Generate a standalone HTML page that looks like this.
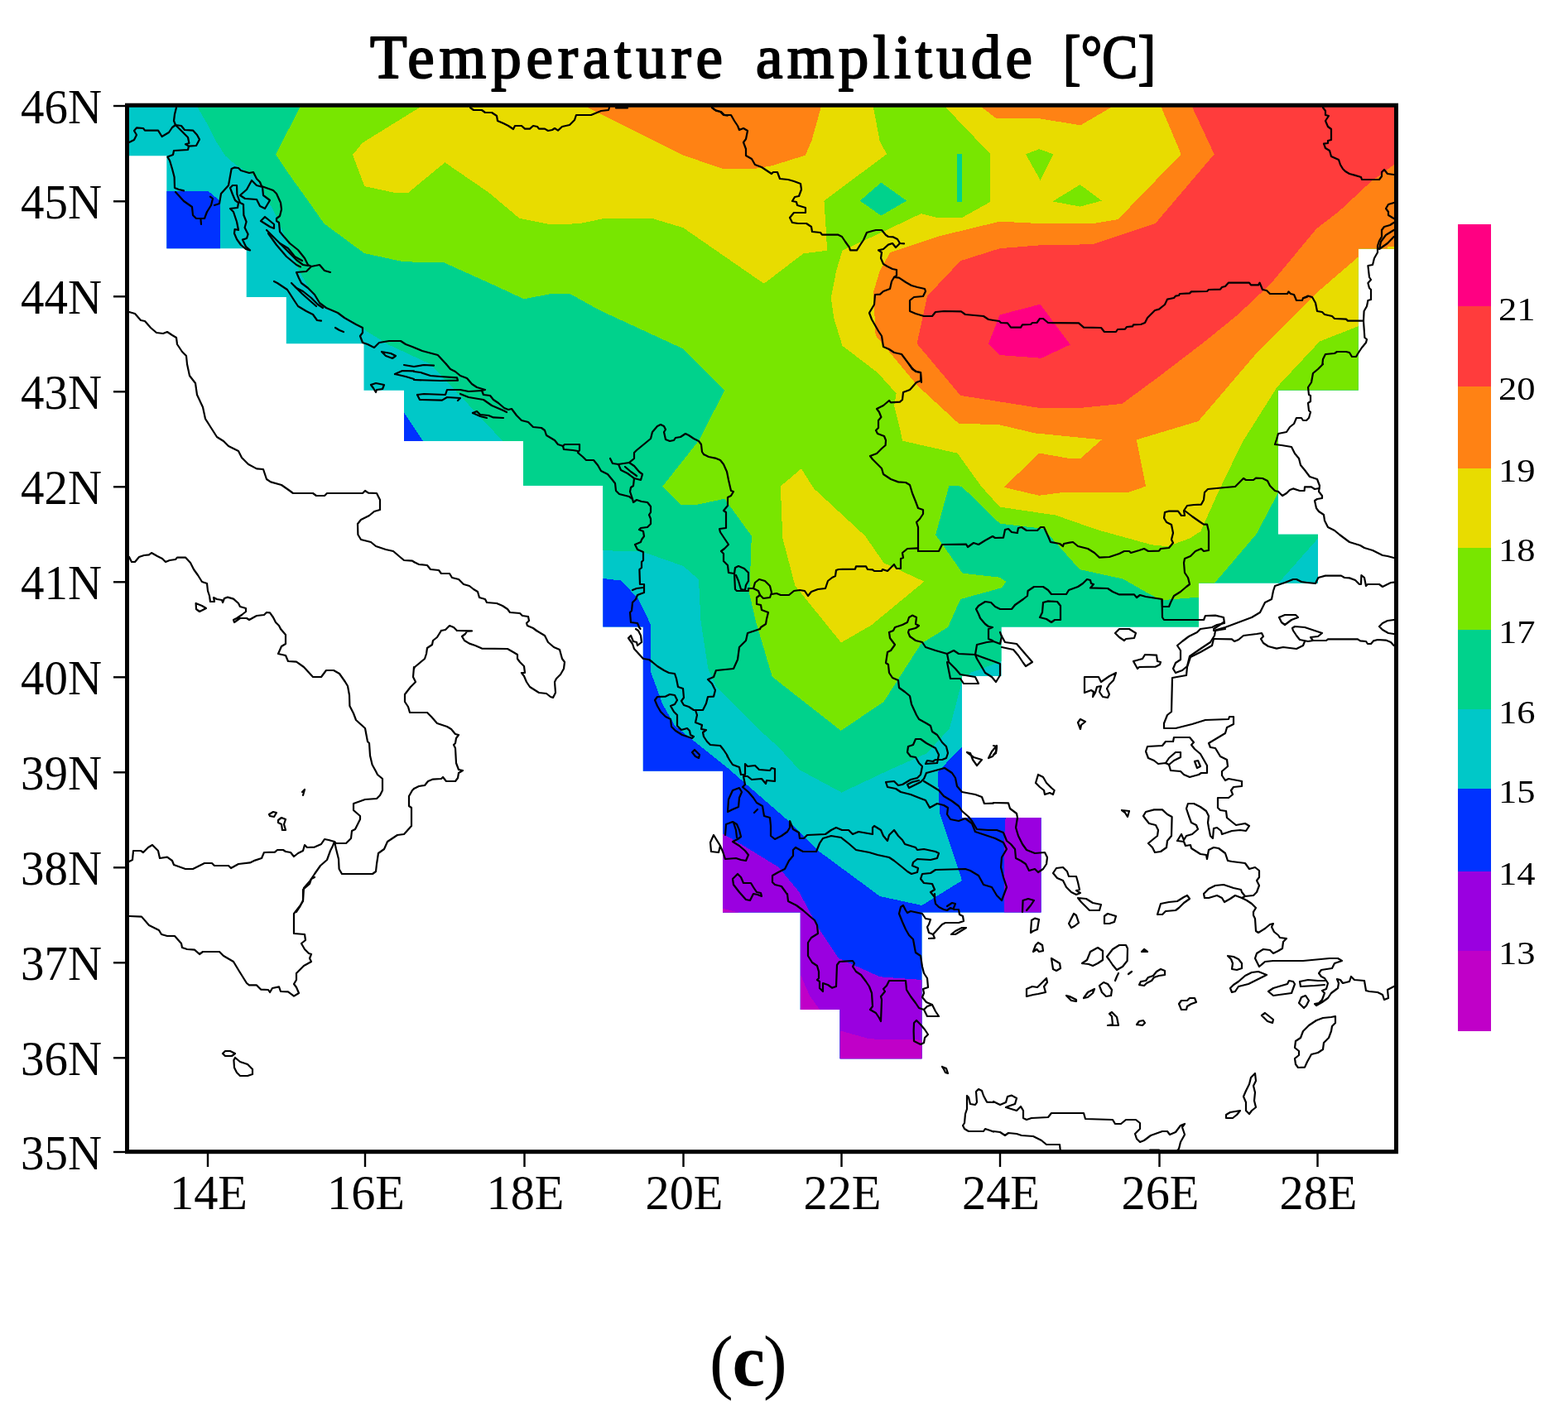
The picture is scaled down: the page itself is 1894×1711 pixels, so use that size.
<!DOCTYPE html>
<html lang="en"><head><meta charset="utf-8"><title>Temperature amplitude</title>
<style>
html,body{margin:0;padding:0;background:#fff}
body{width:1894px;height:1711px;overflow:hidden;position:relative}
svg{position:absolute;left:0;top:0;display:block}
text{font-family:"Liberation Serif","DejaVu Serif",serif;fill:#000}
.ax{font-size:60px}
.cb{font-size:39px}
.ttl{font-size:73px;stroke:#000;stroke-width:2px;stroke-linejoin:round}
.cap{font-size:90px}
.coast{fill:none;stroke:#000;stroke-width:2.2;stroke-linejoin:round;stroke-linecap:round}
</style></head><body>
<svg width="1894" height="1711" viewBox="0 0 1894 1711">
<rect width="1894" height="1711" fill="#fff"/>
<defs><clipPath id="mask"><polygon points="153.5,127 1686.5,127 1686.5,300.5 1640.8,300.5 1640.8,471.5 1543.8,471.5 1543.8,645.8 1592,645.8 1592,704.5 1448,704.5 1448,757.5 1209.5,757.5 1209.5,817 1162,817 1162,988 1257.5,988 1257.5,1102.5 1113.5,1102.5 1113.5,1279.2 1014.5,1279.2 1014.5,1220 966.8,1220 966.8,1102.5 873,1102.5 873,931.8 776.8,931.8 776.8,757.5 728.3,757.5 728.3,586.8 632,586.8 632,533 488,533 488,471.8 439.5,471.8 439.5,415.3 345.8,415.3 345.8,359 297.7,359 297.7,300.3 201.3,300.3 201.3,188.2 153.5,188.2"/></clipPath><clipPath id="frame"><rect x="153.5" y="127" width="1533" height="1265"/></clipPath></defs>
<g clip-path="url(#mask)" shape-rendering="crispEdges">
<rect x="150" y="120" width="1540" height="1280" fill="#00c8c8"/>
<polygon fill="#00d28c" points="238.7,100 238.7,129.8 251.4,151.7 260.9,170.7 272,188.1 284.6,199.2 310,215 333.3,260.9 351,301.5 361.2,326.9 373.9,349.7 389.1,368.7 406.9,377.6 425.9,387.7 444.9,401.7 470.3,417 520,440 607.7,533.4 607.7,665.2 728.4,665.2 775.2,666.4 825.2,683.9 844,700.2 846.5,750.3 855.3,807.8 865.3,830.3 924,888 940.2,902.5 965.3,930 1016.6,957.6 1075,930 1120,910 1147,880 1155,850 1162,823 1172.7,812.8 1209.7,799 1300,799 1700,799 1700,100"/>
<polygon fill="#78e600" points="362.3,100 362.3,129.8 333,186.5 351.2,213.5 375,246.7 391.5,270.2 440,306 487.8,316.4 535.4,316.9 600,346 632.7,361.3 667.7,354.6 687.7,354.6 725.1,375.3 825.3,421.5 875.3,471.6 844,532.5 800.3,587.7 822.8,610.2 840.3,610.2 875.3,602.6 907.8,647.6 905.3,717.7 912.8,750.3 932.8,817.8 1015.8,882.9 1067.6,847.8 1112.6,777.8 1145.1,757.8 1160.2,724 1210.2,710.2 1215.2,702.7 1207.7,697.7 1162.7,692.7 1140.1,660.2 1130.1,646.4 1146.4,587.1 1161.4,587.6 1207.7,632.6 1260.3,638.9 1304,688 1356.5,699.6 1386,716.5 1402.6,725.3 1448.1,721.6 1460,721.6 1467.7,704 1517.7,645.2 1544,595.2 1700,595 1700,100"/>
<polygon fill="#e8dc00" points="506.6,100 506.6,130 437.8,172.6 426,187.1 440.3,225.1 477.8,233.1 492.8,233.1 537.4,196.3 590.4,232.6 627.5,263.9 665.1,271.4 700.1,270.2 730.1,263.9 787.7,263.9 825.2,275.2 922.8,342.7 970.4,306.4 999.1,302.7 997.9,280.2 995.4,242.6 1071,186.3 1062.6,170 1055,130 1055,100"/>
<polygon fill="#e8dc00" points="1142.6,100 1142.6,130 1196.4,186.3 1196.4,243.9 1162.7,262.6 1130.1,262.6 1112.6,258.1 1066.3,280.2 1017.5,302.7 1010,327.7 1003.8,360.2 1007.5,385.3 1017.5,417.8 1060.1,450.3 1082.6,475.4 1080.1,490.4 1087.6,520.4 1090.1,532.7 1156.5,547.7 1185.2,587.6 1207.7,612.6 1275.3,622.6 1325.3,640.1 1391.5,658.4 1410.4,660.2 1437.6,650.3 1450.3,642 1470.2,597.7 1500.2,535.1 1542.7,467.6 1594,412.6 1641,394 1700,394 1700,100"/>
<polygon fill="#e8dc00" points="942.8,587.6 967.9,566.3 982.9,590.1 1045,647.6 1067.6,680.2 1116.4,702.7 1052.6,755.3 1016,776.5 960.4,707.7 945.3,650.2"/>
<polygon fill="#ff8214" points="710.1,100 710.1,130 740.1,145 775.2,162.5 825.2,187.6 872.8,203.8 912.8,203.8 932.8,200.1 972.9,187.6 980.4,170 991.6,130 991.6,100"/>
<polygon fill="#ff8214" points="1186.4,100 1186.4,130 1202.7,142.5 1250.3,142.5 1305.3,151.3 1341.6,130 1341.6,100"/>
<polygon fill="#ff8214" points="1402.9,100 1402.9,130 1426.7,186.3 1350.4,265.1 1320.3,270.2 1257.8,270.2 1207.7,267.6 1135.1,285.2 1075.1,305.2 1062.6,327.7 1055.1,352.7 1057.6,405.3 1107.6,465.3 1157.7,511.5 1207.7,513.4 1250.3,523.4 1330.8,531.3 1305.3,553.8 1290.3,553.8 1255.3,547.5 1212.7,588.8 1255.3,598.8 1282.8,595.1 1363,595 1384,587.6 1372.8,531.4 1447.5,509 1520.1,424 1590.2,354 1641,310.2 1700,310 1700,100"/>
<polygon fill="#e8dc00" points="1676,297.5 1690,297.5 1690,302 1676,302"/>
<polygon fill="#ff3c3c" points="1440.4,100 1440.4,130 1466.7,186.3 1395.4,270.2 1320.3,295.2 1255.3,296.4 1207.7,300.2 1160.2,315.2 1120.1,357.7 1107.6,415.3 1160.2,477.9 1255.3,492.9 1305.3,492.9 1355.4,487.9 1400,455 1455.1,412.8 1495.1,380.3 1535.1,342.7 1590.2,276.4 1617.7,255.1 1655.3,220.1 1684,198.8 1700,198 1700,100"/>
<polygon fill="#ff0082" points="1256.5,367.7 1207.7,380.3 1194,415.3 1207.7,429 1257.8,432.8 1292.8,416.5"/>
<polygon fill="#00d28c" points="1038.8,242.6 1064.3,220.6 1095.1,242.6 1064.3,260.6"/>
<polygon fill="#00d28c" points="1156.4,186.3 1161.9,186.3 1161.9,244.4 1156.4,244.4"/>
<polygon fill="#78e600" points="1239,186.3 1255.3,180.1 1272.3,186.3 1256.5,217.6"/>
<polygon fill="#78e600" points="1271.5,243.4 1304.6,223.1 1330.8,242.6 1304.6,249.6"/>
<polygon fill="#00c8c8" points="1544,704.8 1592.3,650.3 1592.3,704.8"/>
<polygon fill="#0032ff" points="201.2,231.4 252.2,231.4 265.6,242.8 265.6,300.6 201.2,300.6"/>
<polygon fill="#0032ff" points="488.1,498.9 511.4,533.5 488.1,533.5"/>
<polygon fill="#0032ff" points="700,699 728.4,699 750.2,701.5 770.2,722.7 786.4,755.3 786.4,812.8 800.2,850.4 815.2,877 877.8,927 950.3,990.1 987.8,1027.6 1062.9,1083 1113.5,1094 1162,1064 1135.1,982.7 1132.6,932.7 1161.9,902.6 1300,902 1300,1300 700,1300"/>
<polygon fill="#9a00e0" points="800,1007 873.2,1007.6 895.2,1020.1 940.2,1047.7 965.3,1077.7 987.8,1120.2 1012.8,1157.8 1062.9,1180.3 1113.7,1184 1200,1184 1200,1300 800,1300"/>
<polygon fill="#9a00e0" points="1215.2,980 1212.7,1017.7 1212.7,1110 1270,1110 1270,980"/>
<polygon fill="#c000c8" points="873,1097.7 893,1102.7 873,1102.7"/>
<polygon fill="#c000c8" points="967,1177.8 977.8,1202.8 990.3,1220.3 967,1220.3"/>
<polygon fill="#c000c8" points="1014.8,1245.4 1050.4,1255.4 1113.7,1256.6 1113.7,1290 1014.8,1290"/>
</g>
<g class="coast" clip-path="url(#frame)">
<polyline points="156,172 162,169 165,163 162,158 165,154.4 173,155 175,157.6 191,157.6 195.6,165 204,160 208,154 212,151"/>
<polyline points="213,130 211,138 210,146 212,151 219,152 223,157 233,157.6 238,163 241,168.6 237,176 228,176.6 227,181 210,182 209,187 202.4,189.6 205,194 208,204 210.6,214 211,227 216,229 222,230.4"/>
<polyline points="212,151 220,159 227,166 228.4,173 224,174.4 228,176.6"/>
<polyline points="212,232 222,243 232,250 233,260 237,264 247,264 250,256 255,248 257,240 254,237.6"/>
<polyline points="243,271 242.4,264.4"/>
<polyline points="259,248 265,246 267,234 276,224 279.6,204 283,202.4 288,203 291,206 301,209 306,208 308,212 310,216 314,220 316,225 330,230 334,234 339,245 340,253 338,261 334,264 334,267 337,269 338,280 343,286 350,294 360,302 368,312 372,320 376,322 386,320 392,327 399,329"/>
<polyline points="376,322 370,328 358,329 361,336 364,342 372,348 380,356 386,366 394,372 408,378 416,384 430,392 438,396 438,402 435,406 438,414 444,416 452,420 458,414 470,412 484,412 490,416 498,419 510,424 528.8,429 539,440"/>
<polyline points="278,227 281,224 286,224 286.4,235 290,245 294,247 294.4,260 297.6,268 295.6,275 299.6,283 298,288 293,289.6 297,298 302,302.4 297,301 291,296 286,289 283,282 283.6,277 288,278 286,268 282,256 278,252 287,251 288,245 284,242 281,235 278,227"/>
<polyline points="290,236 298,229 304,218 310,224 317,226 318,236 326,242 320,252 314,249 310,241 296,240 290,236"/>
<polyline points="315,267 320,262 331,271 331,276 326,274 315,267"/>
<polyline points="322,278 330,286 340,296 350,306 358,314 366,320 372,321"/>
<polyline points="324,282 334,296 346,310 358,320 363,322.4"/>
<polyline points="338,294 348,300 356,310 365,315"/>
<polyline points="331,340 335,342 347,350 356,364 360,370 370,376 378,380 383,387 388,387.6"/>
<polyline points="352,342 358,348 366,352 376,360 384,368 390,372"/>
<polyline points="356,346 365,355 374,363 382,370"/>
<polyline points="405,396 410,399 415,401"/>
<polyline points="461,425 466,430 474,433 478,430 472,427 461,425"/>
<polyline points="156,377 163,379 170,387 175,388 182,396 189,402 197,403 202,401 208,405 213,408 214,416 220,425 225,430 226,440"/>
<polyline points="568,130 572,133 582,133 586,136 594,136 600,140 601,146 608,149 614,152 620,156 622,152 630,152 634,155.6 640,155.6 644,152 649,153 651,155.6 658,155.6 662,158 667,157 670,155 674,157.6 679,153 688,151 694,145 696,139 714,139 726,134 735,133 736,130"/>
<polyline points="860,130 864,133 870,135 874,139 878.8,139.6"/>
<polyline points="744,130.4 758,130.4"/>
<polyline points="860,130 865,134 871,135 875,139 883,139 887,146 891,152 893,157 898,155 903,158 901,168 898,172 901,180 901,188 908,192 912,199 920,202 926,206 932,210 934,208 939,208 942,216 952,217 959,219 967,222 968,229 965,237 960,238 957,243 962,244 963,248 973,251 973,257 959,257 954,263 957,269 964,270 974,270 980,274 981,280 991,281 993,283.6 1012,283.6 1017,286 1021,292 1026,299 1027,302.4 1035,302.4 1039,296 1043,290 1047,281 1054,279 1058,278 1065,278 1070,284 1073,286 1079,286.4 1084,289 1087,294 1092,294.4"/>
<polyline points="1087,294 1082,299 1078,294 1073,295.6 1067,301 1061,302.4 1065,305 1064,312 1067,319 1072,322 1078,325 1083,326 1083,333 1080,335"/>
<polyline points="1080,335 1086,335.6 1094,341 1101,345 1108,347 1117,349 1118,352 1115,358 1104,359 1099,363 1099,376 1106,379 1116,382 1126,382 1130,377 1140,376 1161,376.4 1166,380 1188,382 1194,386 1200,387"/>
<polyline points="1080,335 1077,340 1075,349 1067,352 1063,355.6 1057,356 1056,368 1053,373 1050,378 1053,386 1057,393 1061,400 1065,406 1067,419 1074,422 1080,426 1089,428 1095,436 1101,444 1106,449 1112,450 1113,461.8"/>
<polyline points="1200,387 1207,388 1209,390 1217,390.4 1221,395.6 1233,395.6 1235,392.4 1245,392 1247,390 1252.4,390 1256,385 1260,385 1266,390 1303,390.4 1309,395.6 1330,396 1334,401 1348,401 1350,398 1359,397.6 1361,395 1368,394.4 1369,392.4 1378,392 1383,390 1386,384 1395,375 1400,373.6 1407,368 1410,361.6 1418,360 1420,357.6 1424,357 1425,355 1437,354.4 1439,352.4 1458,352 1460,350 1474,349.6 1476,347 1480,346 1484,341.6 1509,341.6 1511,344.4 1520,344.4 1521.6,341.6 1525,350 1530,351 1534,355 1555,355 1556.4,352.4 1559,355 1563,356 1566,363 1573,363 1574,360 1578.8,359"/>
<polyline points="1598,130 1601,134 1601,139 1605,140 1601,146 1604,153 1608,156 1608,169 1604,170 1604,173 1599,173.6 1601,179 1606,182 1608,189 1617,193 1619,199 1622,204 1625,207 1630,210 1636,211.6 1644,214 1645,217 1666,217 1669,213 1669,208 1672,205 1676,210 1683.6,211"/>
<polyline points="1683.6,245 1677,247 1674,252 1677,256 1677,260 1683.6,264"/>
<polyline points="1683.6,269 1679,272 1672,274 1669,278 1669,286 1666,291 1664,297 1664,305"/>
<polyline points="1683.6,278 1674,284 1668,292 1666,301 1676,294 1683.6,286"/>
<polyline points="1664,305 1660,312 1658,320 1652.4,321 1654,335 1656,338 1652.4,342 1654,348 1656,350 1656,362 1652.4,363 1651,370 1647.6,376 1647,388 1648.4,408 1651,410 1650,414 1645,420 1641,426 1638,431 1633,431 1630,426 1626,425 1615,425 1612,427 1601,428 1598,434 1597.4,440"/>
<polyline points="1575,360 1580,357.6 1585,359 1589,366 1591,376 1597,377 1600,380 1609,382 1612,385 1626,385.6 1628,387.6 1647,387.6"/>
<polyline points="226,440 229,454 236,463 238,477 245,492 248,506 255,517 262,528 270,533 276,539 288,545 292,553 300,561 310,566.4 318,567 322,579 327,582.4 340,586 350,593 354,596 378,596 382,599 392,599 395,596 438,596 441,593 445,595.6 455,596 459,604 459,616 452,618 446,623 436,628 432,633 432.4,646 436,652 448,655 454,660 466,664 475,666 482,672 488,677 498,677.6 500,679"/>
<polyline points="156,673 159,679 163,679 168,673 174,671 180,670.4 183,668 190,672 196,675 200,679 205,677 212,676 214,673.6 224,673.6 230,680 234,688 239,695 244,703 250,705 251,714 253,720 254,727 259,727 258,722 262,724 268,725 269,728 271,723 275,721.6 282,723.6 288,729 290,733 297,735 297,739 292,743 286,747 282,749 283,752 290,747 298,747 301,749 310,744 319,743 322,740 326,740.4 330,746 333,752 337,756 339,760"/>
<polyline points="236.6,729 237,736 241,739 249,735 244,732 236.6,729"/>
<polyline points="448,465 454,463 464,465 462,470 455,471 454,474 451,469 448,465"/>
<polyline points="477,452 486,448 500,448.4"/>
<polyline points="477,452 490,455 500,458"/>
<polyline points="488,441 500,443"/>
<polyline points="539,440 544,446 550,449 556,454 564,457 570,464 576,468 586,471 582,472 584,477 592,478 596,483 602,487 609,493 614,495 618,494 624,502 630,508 638,510 644,516 654,517 658,520 660,526 670,532 674,537 680,539 682,537 700,537 700,544 698,547 704,552 708,556 717,556 722,562 726,569 734,573 739,579 743,584 744,593 748,597 760,600 764,603 765,607 769,604 775,606 782,607 786,612 786,619 784,622 786,627 786,633 782,637 774,638 772,640 777,642 778,648 775,652 774,655 767,658 770,664 777,667 777,677 775,679 775,686 772.4,688 773,706 778,706 778,716 770,719 768,724 764,728 763,738 761,740 762,752 770,753 772,758 773.6,760"/>
<polyline points="680,539 681,543 692,544 698,545"/>
<polyline points="764,713 769,711 777,710"/>
<polyline points="764,603 761,594 762,589 765,587 766,578"/>
<polyline points="737,554 740,560 747,561 760,559 766,554 766,547 769,544 780,535 786,530 788,522 794,515 798,513 802,515 804,519 802,522 804,531 809,533 814,532 816,529 822,528 828,524 832,526 838,530 844,533 847,537 848,546 850,549"/>
<polyline points="747,561 750,568 758,572 766,578 774,580 776,573 772,570 766,563 760,559"/>
<polyline points="755,564 762,570 769,575"/>
<polyline points="500,449 508,450 520,454 532,455 552,456.4 553,459.6 532,460 500,459"/>
<polyline points="500,443 512,441 524,441.6"/>
<polyline points="504,477 512,476 538,477 540,471 556,471 566,473 582,472"/>
<polyline points="504,477 507,483 534,483.6 540,480 556,481 553,484"/>
<polyline points="556,476 566,480 584,483 594,490 608,496 612,498"/>
<polyline points="571,499 576,497 580,501 590,502 596,504.4 608,505"/>
<polyline points="571,499 580,503 588,505"/>
<polyline points="500,679 506,682 516,683 520,688 530,689 533,693 543,693 546,698 554,700 560,706 567,708 572,712 577,715 579,722 586,724 588,728 600,729 607,732 613,736 616,740 628,741 631,744 638,745 639,750 636,753 637,756 644,759 648,762"/>
<polyline points="533,762 538,761 543,756 548,758 552,762"/>
<polyline points="850,549 856,552 864,553.6 870,556 874,561 878,570 880,580 883,593 886,594 883,599 879,601 879,611 874,617 877,619 877,638 869,639 870,643 876,652 880,658 875,663 871,666 874,669 874,678 879,683 880,692 887,693 888,712 890,714 904,714 904,711 910,711"/>
<polyline points="887,693 888,686 892,684 899,687 904,692 904,702 901,707 900,713 895,712 892,702 889,695"/>
<polyline points="910,711 912,704 917,700 924,702 930,708 932,716 930,722 922,723 918,719 916,714 910,711"/>
<polyline points="918,719 914,722 914,730 919,731 920,737 928,740 926,748 925,754 919,758 918,760"/>
<polyline points="932,718 938,717 943,719 953,719 959,714 966,713 972,714 976,720 980,715 988,712 997,711 1000,702 1005,698 1009,696 1010,689 1013,688 1033,687.6 1034,684.4 1046,684.4 1048,688 1054,688.4 1056,690 1065,690 1066,688 1072,690 1074,688 1080,682 1083,687 1088,687 1088,675 1091,674 1090,668 1096,663 1109,662.4"/>
<polyline points="1098,440 1102,446 1107,449 1112,450 1112.4,460 1107,462 1099,471 1091,474 1090,483 1087,485.6 1076,486.4 1074,484 1067,490 1059,494 1062,498 1064.4,504 1061,508 1061,517 1058,520 1060,524 1068,527 1070,532 1069.6,538 1065,542 1059,548 1051,551 1054,555 1059,560 1065,566 1067,573 1076,579 1085,582.4 1094,583 1099,586 1102,596 1106,606 1109,614 1115,616 1115,621 1111,627 1107,631 1109,637 1109,666"/>
<polyline points="1109,666 1134,666 1138,658 1167,657.6 1169,661 1176,656 1182,658 1190,653 1199,648 1202,650 1212,649.6 1214,640 1218,639 1222,643 1228.8,644"/>
<polyline points="1074,764 1079,762 1081,758 1090,755 1096,752 1098,746 1102,743.6 1107,746 1106,754 1110,756 1106,759 1098,761 1097,764 1099,769"/>
<polyline points="1226,731 1222,736 1208,736 1202,733 1197,728 1190,727 1182,732 1179,736 1182,742 1184,747 1190,754 1194,757 1199,758 1194,760 1194,772 1199,774"/>
<polyline points="1228.8,644 1230,638 1234,637 1240,641 1253,641 1257,637 1261,637 1266,648 1269,655 1280,657 1284,660 1285,657 1292,655.6 1296,655 1302,660 1314,663 1322,668 1328,673.6 1340,673 1352,669 1358,666 1364,666 1366,668 1376,665 1382,663 1387,666 1400,665.6 1402,663 1412,662 1417,656 1415,652 1417,644 1415,634 1409,631 1406,626 1407,619 1412,617.6 1423,617.6 1427,623 1431,623 1430,617 1434,611 1442,610 1451,609.6 1454,604 1455,595 1459,591 1480,589 1492,588 1498,582 1502,578 1505,580 1514,580 1517,577.6 1525,578 1531,581 1534,587 1540,593 1544,594"/>
<polyline points="1431,617 1440,624 1450,631 1454,633.6 1458,633.6 1460,642 1460,665 1454,666 1451,663 1444,666 1438,672 1431,675 1430,680 1431,692 1435,698 1437,706 1433,709 1426,715 1418,720 1414,728 1412,733 1404,733 1403.6,725"/>
<polyline points="1226,731 1236,724 1241,720 1241.6,714 1249,709 1260,709 1266,713 1270,718 1288,718 1291,713 1302,709 1308,705 1313,700 1317,701 1318,705 1321,706 1317,710.4 1338,711 1344,715 1352,718.4 1370,718.4 1373,722 1377,719 1384,721 1403.6,724 1404,746 1406,749 1454,749 1456,744 1468,743.6 1478,746 1479,753 1470,755 1464,758 1450,760"/>
<polyline points="1260,728 1266,726.4 1277,727 1281,732 1281,749 1274,749 1270,752 1264,748 1256,746 1259,740 1260,728"/>
<polyline points="1347,765 1352,760 1364,760 1372,765 1370,771 1360,772 1358,774 1352,770 1347,765"/>
<polyline points="1478,752 1466,760"/>
<polyline points="1466,762 1480,758 1496,752 1512,746 1522,740 1528,728 1536,724 1538,714 1540,708 1552,704 1562,700 1566,700 1572,703 1578.8,704"/>
<polyline points="1598,440 1592,446 1586,451 1584,462 1580,468 1581,477 1583,478 1583,485 1580,487 1581,496 1583,498 1581,505 1578,508 1574,508 1572,505 1566,505 1563,512 1558,516 1554,522 1544,524 1542,531 1540,537 1548,538 1560,540 1564,548 1569,554 1571,562 1576,568 1582,576 1591,579 1594,587 1593,594 1597,599 1597,602 1591,603 1588,605 1590,614 1593,618 1599,622 1600,629 1604,637 1612,641 1618,646 1626,652 1630,655 1643,659 1648,662 1658,665 1670,671 1676,672 1683.6,674"/>
<polyline points="1544,594 1549,599 1554,596 1558,592 1562,590.4 1570,593 1575.6,593 1576,588.4 1584,588.4 1588,591 1593.6,590"/>
<polyline points="1578.8,704 1589,705 1592.4,698 1601,695.6 1620,695.6 1624,698 1630,698.4 1637,701 1642,706 1644,706 1644.4,695 1648,698 1650,708 1652,706 1666,706 1670,709 1674,707 1680,704 1683.6,703.6"/>
<polyline points="1545,746 1552,743 1565,743 1568,746 1560,749 1552,755 1548,752 1545,746"/>
<polyline points="1561,759 1564,757 1576,758 1588,762 1597,765 1592,769 1583,770 1586,774 1580,775 1570,773 1566,768 1562,762 1561,759"/>
<polyline points="1683.6,749 1676,750 1670,753 1666,757 1670,761 1677,765 1683.6,766"/>
<polyline points="1585,774 1602,774 1604,772.4 1640,772.4 1643,774.4 1650,775 1652,778 1656,778 1659,774.4 1664,773 1674,773.6 1680,776 1683.6,780"/>
<polyline points="339,760 345,767 345,778 340,781 336,790 345,792 348,799 358,799.6 367,806 378,818 388,818 394,810 403,810 410,814 417,824 420,829 422,840 422.4,853 427,862 430,870 441,880 444,896 446,898 447,913 449.6,924 454,932 456,936 462,941 462,955 459,961 455,965 441,966 427,971 427,979 435,986 435,990 429,1002 425,1004 424,1013 418,1019 406,1019 404,1017"/>
<polyline points="156,1041 160,1039 161,1028 170,1028 173,1030 179,1024 184,1021 191,1028 193,1037 202,1035.6 208,1040 210,1045 224,1050 233,1050 241,1046 247,1043 256,1043 259,1046 276,1046 279,1049 288,1044 302,1042.4 308,1039.6 316,1037 319,1030 332,1029.6 335,1027 342,1027 345,1029 351,1030 355,1035 360,1031 366,1028 368,1021 371,1024 380,1023.6 388,1020 392,1014 397,1015 404,1017 402,1022 399,1028 395,1039 387,1046 380,1056 374,1065 367,1073 366,1088 362,1096 358,1101.8"/>
<polyline points="404,1017 406,1026 409,1038 409.6,1050 413,1056 450,1056 454,1053 455,1044 457,1031 464,1026 468,1017 480,1009 488,1008 497,998 497,976 494,974 494,962 498,955 500,953"/>
<polyline points="500,806 499,818 502,824 496,830 489,839 489,848 493,854 495,861 500,861"/>
<polyline points="325,984 330,981 334,982 331,987 326,986 325,984"/>
<polyline points="336,991 340,988 345,990 343,996 345,1003 341,1003 340,996 336,994 336,991"/>
<polyline points="365,957 368,954 366,961"/>
<polyline points="156,1107 171,1107.6 180,1118 192,1124 195,1129 202,1131 211,1131 219,1140 220,1145 226,1147 235,1147.6 241,1153 245,1150 265,1150 270,1155 282,1162 288,1172 298,1188 301,1190.4 310,1190.4 315,1195.6 324,1196 326,1199 329,1194 337,1192.4 339,1198 348,1198.4 355,1203.6 361,1200 358,1193 355,1189 358,1184 358,1176 367,1167 376,1162 374,1158 376,1153 373,1152 368,1147 364,1140 369,1136 368,1129 355,1128 355,1104 362,1095 366,1089 366,1075 374,1068 376,1062 380,1060"/>
<polyline points="269,1273 272,1270 278,1270 284,1273 280,1276 272,1276 269,1273"/>
<polyline points="284,1278 290,1283 299,1286 305,1292 305,1298 299,1300 290,1300 286,1296 283,1290 282.4,1281 284,1278"/>
<polyline points="648,762 658,768 662,776 669,782 676,785 679,796 682,800 681,808 677,815 672,820 670,824 671,837 668,843 665,842 660,838 651,837 640,830 636,824 633,817 630,813 634,813 633,805 628,800 625,796 625,791 620,788 613,784 582,783.6 574,780 567,777.6 561,774 558,769 562,766 564,763 570,762.4 552,762"/>
<polyline points="533,762 528,770 523,774 522,779 516,783 515,790 513,796 507,801 501,806 500,808"/>
<polyline points="500,861 516,861 521,866 528,874 540,878 545,881 550,887 554,888 551,892 550,898 548,900 550,904 551,922 554,930 559,931 554,934 553,940 550,944 539,944 535,939 533,941 523,941.6 517,944 513,949 506,950 500,953"/>
<polyline points="768,760 771,762 774,768 775,776 770,780 769,776 765,775 762,768 759,771 764,778 766,784 777,796 784,797 788,800 794,805 802,810 808,813 815,814 817,820 819,830 825,832 826,843 823,847 826,852 832,854 838,858 849,858 853,850 855,842 862,841.6 864,834 860,826 855,821 862,818 865,810 866,810"/>
<polyline points="840,858 842,864 840,873 848,876 847,881 853,882 849,885 850,890 854,896 858,900 870,901 874,906 878,912 878.8,914"/>
<polyline points="791,846 794,842 804,841.6 809,839 815,840 818,846 815,851 810,853 814,860 818,864 818,877 823,882 830,880 833,883 834,888 838,890 836,892 824,888 816,883 811,878 810,869 804,866 798,860 794,853 791,846"/>
<polyline points="836,909 839,906 845,912 844,916 840,914 836,909"/>
<polyline points="918,760 903,765 901,774 893,782 891,797 886,808 866,810"/>
<polyline points="878.8,914 881,918 885,924 893,927 895,936 900,936 900,923 903,926 912,925 917,930 930,931 932,928 936,929 936,944 926,943 925,947 920,941 908,942 903,938 898,938 900,948 897,951 904,957 910,964 914,970 921,974 923,986 930,988 931,998 931,1010 936,1014 944,1010 951,1005 954,1000 954,992 958,1002 965,1006 966,1013 971,1013 975,1009 997,1008 1004,1003 1010,1000 1017,1003 1025,1003 1030,1008 1037,1005 1054,1008 1054,1000 1056,998 1064,1003 1067,1010 1072,1016 1074,1009 1080,1003 1085,1010 1090,1015 1093,1020 1106,1024 1108,1027 1116,1026 1130,1029 1134,1031 1132,1037 1124,1039 1108,1038 1103,1042 1102,1046 1109,1049 1108,1054 1101,1056 1096,1053 1090,1048 1080,1040 1074,1036 1060,1033 1050,1030 1034,1027 1026,1020 1016,1012 1004,1010 994,1013 990,1019 986,1029 970,1029 961,1024 958,1027 958,1034 953,1040 948,1050 940,1054 933,1058 933,1066 936,1069 944,1071 949,1078 951,1081"/>
<polyline points="1074,764 1075,771 1081,779 1076,786 1072,788 1070,801 1073,803 1074,813 1078,819 1085,822 1086,831 1093,836 1099,841 1101,851 1107,864 1110,869 1119,874 1124,877 1126,884 1132,888 1138,897 1143,902 1145,910 1143,916 1138,918 1130,918 1127,920 1120,919 1118,923 1132,922 1134,912 1130,904 1119,898 1112,893 1106,893 1103,900 1097,902 1096,909 1100,914 1106,915 1110,922 1114,926 1112,936 1108,940 1100,942 1090,948 1085,949 1080,944 1070,945 1072,951 1082,953 1088,957 1100,960 1110,964 1118,967 1123,976 1132,971 1140,973 1145,976 1144,984 1148,990 1158,992 1166,989 1174,995 1178,1005 1190,1009 1202,1013 1212,1018 1216,1026 1210,1036 1209,1048 1212,1060 1216,1072 1213,1080 1210,1088 1204,1082 1198,1072 1188,1069 1182,1058 1172,1052 1166,1050 1130,1051 1124,1055 1114,1056 1112,1062 1116,1067 1126,1068 1129,1075 1124,1078 1129,1084"/>
<polyline points="1119,934 1130,931 1141,928 1150,934 1154,940 1156,950 1162,957 1178,960 1186,963 1189,971 1200,970.6"/>
<polyline points="1119,934 1116,941 1112,945 1098,952 1096,948 1102,945 1110,943"/>
<polyline points="1116,944 1126,950 1134,955 1140,962 1150,968 1158,974 1162,980 1170,987 1174,992 1180,1002 1194,1003 1200,1003"/>
<polyline points="1099,769 1106,774 1114,776 1118,782 1130,786 1144,790 1152,786 1158,790 1178,791 1180,779 1192,776 1200,775 1208,778 1210,769 1208,764"/>
<polyline points="1178,791 1186,794 1200,799 1208,802 1208,816 1203,824 1198,818 1190,813 1186,806 1180,796 1178,791"/>
<polyline points="1144,790 1146,800 1154,808 1160,815 1178,818 1182,826 1164,826 1160,820 1148,820 1146,810 1144,800"/>
<polyline points="1168,909 1172,910 1175,918 1180,925 1186,918 1176,915 1168,909"/>
<polyline points="1194,916 1198,908 1204,901 1203,908 1199,914 1194,916"/>
<polyline points="879,981 880,966 885,955 893,952 896,957 893,964 892,975 885,978 879,981"/>
<polyline points="876,1009 877,996 885,993 890,996 893,1003 895,1011 891,1014 885,1017 893,1022 900,1028 904,1033 901,1040 895,1039 889,1037 876,1038 873,1029 870,1022 862,1009 858,1018 859,1029 868,1030 870,1022"/>
<polyline points="886,994 889,1003 890,1012"/>
<polyline points="885,1062 891,1056 895,1060 898,1067 907,1067 910,1072 914,1078 919,1079 920,1083 915,1081 910,1080 906,1088 901,1087 893,1078 886,1069 885,1062"/>
<polyline points="911,982 915,978"/>
<polyline points="1209.6,768 1214,776 1228,778 1234,785 1240,792 1247,800 1239,805 1236,801 1230,792 1224,785 1210,782"/>
<polyline points="1369,799 1380,796 1383,791 1397,791.6 1398,799 1402,800 1401,803 1396,805.6 1376,806 1374,808 1369,799"/>
<polyline points="1310,818 1327,818 1330,824 1340,817 1348,813 1345,822 1340,827 1337,832 1340,839 1338,843 1332,842 1328,836 1330,829 1325,830 1323,837 1320,842 1321,836 1318,834 1310,837 1310,818"/>
<polyline points="1302,873 1305,869 1311,872 1306,876 1305,881 1302,873"/>
<polyline points="1251,946 1254,936 1260,939 1264,946 1270,952 1273.6,955 1272,960 1268,958 1262,960 1261,955 1256,951 1251,946"/>
<polyline points="1355,979 1364,980 1362,987 1359,982 1355,979"/>
<polyline points="1450,760 1446,764 1436,769 1428,775 1422,780 1426,786 1426,797 1420,801 1417,808 1420,813 1428,810 1434,805 1437,793 1450,784 1462,776 1467,768 1468,762 1480,760"/>
<polyline points="1466,772 1488,772.4 1491,775 1496,773 1502,768 1518,766 1524,765 1526,769 1523,772 1526,777 1532,781 1542,783.6 1550,782 1558,783 1566,784 1574,780 1576,775"/>
<polyline points="1466,772 1464,780 1450,788 1438,794 1434,806 1433,816 1416,819 1415,860 1410,864 1406,874 1406,880 1420,880 1440,875 1456,870 1484,869 1485,866 1490,866 1490,875 1482,879 1480,886 1470,892 1460,898 1462,903 1468,904 1474,914 1482,918 1483,926 1476,932 1476,937 1480,943 1484,941 1500,944 1500,950 1490,951 1487,955 1489,960 1484,964 1471,964 1471,976 1474,979 1481,980 1482,988 1488,993 1493,997 1504,995 1509,998 1505,1004 1498,1003 1488,1004 1476,1008 1475,1004 1470,1000 1466,1001 1465,1013 1462,1010 1460,1000 1459,994 1460,986 1457,980 1450,975 1442,971 1435,971 1433,977 1436,986 1439,994 1445,997 1447,1002 1440,1008 1433,1010 1430,1015 1427,1008 1422,1016 1430,1017 1432,1022 1438,1021 1439,1025 1450,1032 1457,1033 1458,1038 1460,1027 1466,1024 1472,1025 1480,1031 1483,1040 1488,1041 1504,1043 1509,1050 1516,1048 1521,1052 1521,1060 1518,1064 1521,1070 1518,1078 1514,1082 1504,1083 1500,1085 1506,1088 1512,1092 1517,1097 1514,1101.8"/>
<polyline points="1384,908 1386,902 1404,901 1408,896 1417,896 1418,891 1437,891 1442,897 1439,900 1443,905 1450,911 1454,918 1458,925 1458,934 1451,934 1448,936 1437,939 1430,936 1426,932 1414,931 1412,924 1408,922 1399,923 1394,919 1387,916 1384,908"/>
<polyline points="1408,922 1412,916 1420,909 1426,909 1426,915 1418,919 1412,924"/>
<polyline points="1443,920 1447,919 1450,926 1446,928 1443,920"/>
<polyline points="1381,986 1384,981 1394,978.4 1404,978.4 1410,984 1415.6,987 1415,1010 1410,1016 1409,1024 1402,1029 1395,1030 1392,1024 1387,1019 1393,1014 1398,1010 1399,1003 1396,997 1388,995 1384,990 1381,986"/>
<polyline points="1454,1080 1460,1074 1468,1070 1478,1069 1484,1071 1490,1073 1499,1075 1500,1078 1504,1083"/>
<polyline points="1500,1085 1492,1082 1486,1086 1479,1090 1476,1085 1470,1082 1460,1085 1455,1085 1454,1080"/>
<polyline points="1398,1105 1402,1092 1412,1090 1422,1089 1430,1084 1434,1082 1437,1086 1430,1091 1424,1097 1420,1100 1408,1101 1404,1105 1398,1105"/>
<polyline points="1200,970 1218,970.4 1220,977 1228,983 1229,988 1227,1000 1230,1010 1235,1020 1240,1027 1250,1031 1262,1030 1265,1036 1264,1044 1260,1050 1254,1054 1250,1050 1243,1052 1239,1044 1233,1040 1227,1037 1226,1026 1221,1020 1216,1016 1212,1006 1204,1003 1200,1003"/>
<polyline points="1272,1055 1276,1049 1284,1048 1289,1053 1291,1059 1300,1059 1302,1066 1304,1075 1300,1076 1305,1079 1300,1081 1294,1078 1288,1072 1284,1064 1277,1061 1272,1055"/>
<polyline points="1302,1085 1312,1086 1320,1091 1330,1093 1328,1100 1316,1100 1312,1096 1306,1090 1302,1085"/>
<polyline points="1200,901 1204,902 1203,910 1200,912"/>
<polyline points="951,1080 952,1089 962,1094 970,1100 978,1107 984,1112 987,1118 988,1128 980,1133 976,1139 976,1155 981,1163 987,1167 989,1174 989,1182 987,1184 990,1186 990,1194 994,1198 994,1188 1000,1190 1005,1193.6 1010,1192 1011,1166 1014,1162 1030,1161 1032,1164 1030,1168 1034,1174 1040,1178 1046,1186 1050,1192 1053,1200 1054,1216 1051,1220 1058,1224 1062,1230 1064,1234 1065,1208 1064,1204 1069,1198 1067,1195 1071,1191 1074,1185 1094,1185 1095,1196 1100,1204 1106,1212 1110,1218 1116,1220 1120,1216 1126,1214 1130,1222 1134,1228 1120,1228 1116,1220"/>
<polyline points="1086,1104 1088,1096 1091,1094 1094,1100 1096,1103 1100,1101 1114,1104 1118,1110 1124,1111 1122,1117 1120,1120 1122,1127 1127,1129 1138,1117 1142,1115 1158,1115 1164,1113 1163,1107 1159,1105 1158,1099 1153,1099 1148,1097 1144,1100 1140,1099 1134,1096 1130,1092 1129,1086 1129,1080"/>
<polyline points="1086,1104 1090,1114 1094,1123 1098,1130 1103,1135 1105,1146 1106,1151 1112,1155 1114,1168 1116,1176 1120,1182 1121,1193 1115,1195 1116,1200 1114,1205 1119,1211 1126,1214"/>
<polyline points="1122,1134 1129,1133.6 1127,1129"/>
<polyline points="1149,1129 1154,1125 1162,1121 1167,1121 1159,1126 1154,1129 1149,1129"/>
<polyline points="1144,1095 1150,1091 1154,1092 1152,1097"/>
<polyline points="1104,1236 1107,1233 1112,1238 1117,1244 1121,1250 1117,1254 1116,1260 1112,1262 1104,1258 1103.6,1246 1104,1236"/>
<polyline points="1138,1289 1143,1291 1145,1297 1142,1296 1140,1292 1138,1289"/>
<polyline points="1200,1332 1192,1331.6 1188,1324 1186,1318 1182,1316 1179,1319 1180,1332 1178,1335 1172,1334 1170,1326 1168,1324 1168,1340 1166,1346 1165,1357 1163,1360 1165,1364 1170,1367 1188,1367 1190,1364 1196,1366 1200,1367.6"/>
<polyline points="1200,1331 1208,1335 1215,1332 1217,1325 1222,1323.6 1228,1327 1226,1334 1220,1336 1215,1338 1228,1342 1233,1337 1236,1342 1236,1351 1240,1353 1246,1351 1266,1350 1270,1345 1309,1345 1311,1352 1344,1353 1347,1358 1354,1358 1360,1353 1372,1353 1377,1357 1377,1364 1371,1370 1373,1376 1377,1380 1382,1378 1390,1372 1404,1367 1410,1367 1413,1371 1420,1368 1426,1360 1431,1358 1428,1362 1431,1371 1426,1380 1424,1388 1421,1392"/>
<polyline points="1200,1367 1208,1368 1214,1372 1218,1369 1228,1370 1234,1372 1248,1373 1258,1378 1264,1383 1280,1383 1281,1392"/>
<polyline points="1389,1389.6 1400,1389.6"/>
<polyline points="1245,1127 1246,1112 1250,1109.6 1255,1111 1253,1123 1248,1125 1245,1127"/>
<polyline points="1291,1116 1295,1108 1297,1104 1300,1106 1303,1115 1298,1119 1294,1121 1291,1116"/>
<polyline points="1334,1107 1338,1104 1348,1107 1346,1114 1340,1116 1334,1116 1334,1107"/>
<polyline points="1248,1150 1251,1142 1254,1139 1259,1142 1260,1149 1255,1150 1252.4,1147 1248,1150"/>
<polyline points="1270,1158 1275,1161 1280,1164 1281,1170 1276,1173 1272,1171 1270,1158"/>
<polyline points="1307,1164 1313,1160 1317,1150 1326,1145 1332,1149 1332,1160 1326,1164 1320,1167 1315,1165 1307,1164"/>
<polyline points="1337,1156 1344,1147 1352,1142 1360,1142 1362,1146 1361.6,1161 1356,1168 1349,1172 1344,1166 1340,1160 1337,1156"/>
<polyline points="1379,1150 1382,1147 1386,1150 1379,1150"/>
<polyline points="1240,1204 1240,1195 1247,1192 1253,1193 1260,1186 1264,1182 1265,1187 1261,1192 1263,1199 1254,1201 1248,1202 1240,1204"/>
<polyline points="1288,1203 1292,1204 1300,1208 1300,1210 1294,1209 1288,1203"/>
<polyline points="1309,1206 1314,1199 1322,1195 1320,1200 1314,1205 1309,1206"/>
<polyline points="1328,1191 1333,1187 1338,1189 1343,1196 1342,1203 1336,1204 1331,1199 1328,1191"/>
<polyline points="1347,1185 1349,1180 1351,1176"/>
<polyline points="1363,1177 1367,1174"/>
<polyline points="1376,1190 1378,1186 1384,1185 1387,1181 1393,1179 1397,1174 1402,1171 1407,1173 1407,1178 1400,1179 1394,1181 1391,1185 1385,1188 1382,1191 1376,1190"/>
<polyline points="1338,1239 1344,1238 1343,1228 1340,1225 1343,1223 1349,1229 1351,1239 1338,1239"/>
<polyline points="1373,1238 1376,1234 1381,1233 1383,1236 1380,1239 1373,1238"/>
<polyline points="1424,1213 1427,1209 1434,1209 1437,1206 1443,1206 1445,1211 1439,1213 1434,1216 1433,1220 1427,1220 1424,1213"/>
<polyline points="1514,1102 1514,1106 1516,1110 1517,1125 1520,1127 1528,1122 1534,1117 1538,1116 1536,1120 1539,1126 1544,1130 1546,1133 1554,1134 1550,1138 1549,1146 1544,1149 1538,1152 1534,1148 1526,1147 1518,1152 1516,1158 1518,1162 1521,1168 1528,1162 1538,1161"/>
<polyline points="1483,1155 1490,1156 1496,1159 1500,1164 1500,1170 1494,1172 1488,1171 1489,1164 1487,1159 1483,1155"/>
<polyline points="1486,1194 1490,1190 1496,1186 1504,1179 1512,1175 1520,1174 1530,1178 1524,1181 1518,1184 1508,1189 1496,1192 1492,1198 1488,1199 1486,1194"/>
<polyline points="1524,1227 1528,1224 1538,1232 1537,1236 1531,1234 1524,1227"/>
<polyline points="1516,1297 1517,1306 1514,1312 1516,1320 1515,1330 1517,1338 1512,1342 1509,1346 1505,1342 1505,1332 1502,1325 1505,1318 1509,1310 1511,1302 1516,1297"/>
<polyline points="1481,1347 1486,1344 1498,1342 1494,1347 1489,1351 1481,1351 1481,1347"/>
<polyline points="1235,1102 1235.6,1088 1242,1086 1249,1088 1245,1094 1240,1100"/>
<polyline points="1538,1161 1574,1161 1606,1158 1616,1158 1621,1161 1612,1164 1609,1170 1596,1172 1593,1176 1596,1180 1600,1182 1604,1188 1602,1195 1597,1197 1600,1200 1597,1208 1593,1212 1588,1213 1590,1215 1597,1211 1604,1206 1608,1200 1616,1194 1617,1188 1615,1183 1619,1184 1622,1188 1630,1186 1632,1180 1636,1184 1648,1185 1650,1197 1654,1198 1664,1199 1670,1202 1672,1208 1677,1206 1676,1196 1683.6,1192"/>
<polyline points="1570,1186 1580,1184 1592,1185 1600,1185"/>
<polyline points="1570,1186 1571,1192 1588,1191 1600,1190"/>
<polyline points="1532,1198 1538,1194 1548,1191 1555,1189 1557,1185 1562,1186 1564,1189 1560,1200 1538,1203 1532,1198"/>
<polyline points="1569,1212 1572,1205 1577,1203 1581,1209 1578,1215 1575,1218 1569,1212"/>
<polyline points="1613,1228 1608,1229 1598,1230 1590,1233 1581,1239 1574,1246 1571,1254 1565,1258 1564,1266 1569,1270 1569,1275 1564,1279 1565,1286 1568,1290 1576,1289.6 1579,1283 1584,1274 1592,1272 1598,1268 1599,1260 1605,1254 1608,1246 1609,1240 1613,1236 1613,1228"/>
</g>
<rect x="153.5" y="127.2" width="1533" height="1264.5" fill="none" stroke="#000" stroke-width="5"/>
<g stroke="#000" stroke-width="2.4">
<line x1="137" y1="128" x2="152" y2="128"/>
<line x1="137" y1="243.3" x2="152" y2="243.3"/>
<line x1="137" y1="358.3" x2="152" y2="358.3"/>
<line x1="137" y1="473.3" x2="152" y2="473.3"/>
<line x1="137" y1="588.3" x2="152" y2="588.3"/>
<line x1="137" y1="703.3" x2="152" y2="703.3"/>
<line x1="137" y1="818.3" x2="152" y2="818.3"/>
<line x1="137" y1="933.3" x2="152" y2="933.3"/>
<line x1="137" y1="1048.3" x2="152" y2="1048.3"/>
<line x1="137" y1="1163.3" x2="152" y2="1163.3"/>
<line x1="137" y1="1278.3" x2="152" y2="1278.3"/>
<line x1="137" y1="1392" x2="152" y2="1392"/>
<line x1="251" y1="1394" x2="251" y2="1410"/>
<line x1="441" y1="1394" x2="441" y2="1410"/>
<line x1="633.5" y1="1394" x2="633.5" y2="1410"/>
<line x1="825.5" y1="1394" x2="825.5" y2="1410"/>
<line x1="1016.5" y1="1394" x2="1016.5" y2="1410"/>
<line x1="1208" y1="1394" x2="1208" y2="1410"/>
<line x1="1400.5" y1="1394" x2="1400.5" y2="1410"/>
<line x1="1591.5" y1="1394" x2="1591.5" y2="1410"/>
</g>
<g class="ax" text-anchor="end">
<text x="123" y="148.5" textLength="98" lengthAdjust="spacingAndGlyphs">46N</text>
<text x="123" y="263.8" textLength="98" lengthAdjust="spacingAndGlyphs">45N</text>
<text x="123" y="378.8" textLength="98" lengthAdjust="spacingAndGlyphs">44N</text>
<text x="123" y="493.8" textLength="98" lengthAdjust="spacingAndGlyphs">43N</text>
<text x="123" y="608.8" textLength="98" lengthAdjust="spacingAndGlyphs">42N</text>
<text x="123" y="723.8" textLength="98" lengthAdjust="spacingAndGlyphs">41N</text>
<text x="123" y="838.8" textLength="98" lengthAdjust="spacingAndGlyphs">40N</text>
<text x="123" y="953.8" textLength="98" lengthAdjust="spacingAndGlyphs">39N</text>
<text x="123" y="1068.8" textLength="98" lengthAdjust="spacingAndGlyphs">38N</text>
<text x="123" y="1183.8" textLength="98" lengthAdjust="spacingAndGlyphs">37N</text>
<text x="123" y="1298.8" textLength="98" lengthAdjust="spacingAndGlyphs">36N</text>
<text x="123" y="1412.5" textLength="98" lengthAdjust="spacingAndGlyphs">35N</text>
</g>
<g class="ax" text-anchor="middle">
<text x="252" y="1460.5" textLength="94" lengthAdjust="spacingAndGlyphs">14E</text>
<text x="442" y="1460.5" textLength="94" lengthAdjust="spacingAndGlyphs">16E</text>
<text x="634.5" y="1460.5" textLength="94" lengthAdjust="spacingAndGlyphs">18E</text>
<text x="826.5" y="1460.5" textLength="94" lengthAdjust="spacingAndGlyphs">20E</text>
<text x="1017.5" y="1460.5" textLength="94" lengthAdjust="spacingAndGlyphs">22E</text>
<text x="1209" y="1460.5" textLength="94" lengthAdjust="spacingAndGlyphs">24E</text>
<text x="1401.5" y="1460.5" textLength="94" lengthAdjust="spacingAndGlyphs">26E</text>
<text x="1592.5" y="1460.5" textLength="94" lengthAdjust="spacingAndGlyphs">28E</text>
</g>
<g shape-rendering="crispEdges">
<rect x="1761" y="271.0" width="40" height="99.8" fill="#ff0082"/>
<rect x="1761" y="370.3" width="40" height="96.8" fill="#ff3c3c"/>
<rect x="1761" y="466.6" width="40" height="99.6" fill="#ff8214"/>
<rect x="1761" y="565.7" width="40" height="96.7" fill="#e8dc00"/>
<rect x="1761" y="661.9" width="40" height="99.3" fill="#78e600"/>
<rect x="1761" y="760.7" width="40" height="97.0" fill="#00d28c"/>
<rect x="1761" y="857.2" width="40" height="96.7" fill="#00c8c8"/>
<rect x="1761" y="953.4" width="40" height="99.9" fill="#0032ff"/>
<rect x="1761" y="1052.8" width="40" height="96.5" fill="#9a00e0"/>
<rect x="1761" y="1148.8" width="40" height="96.7" fill="#c000c8"/>
</g>
<g class="cb">
<text x="1810" y="386.8" textLength="44.5" lengthAdjust="spacingAndGlyphs">21</text>
<text x="1810" y="483.1" textLength="44.5" lengthAdjust="spacingAndGlyphs">20</text>
<text x="1810" y="582.2" textLength="44.5" lengthAdjust="spacingAndGlyphs">19</text>
<text x="1810" y="678.4" textLength="44.5" lengthAdjust="spacingAndGlyphs">18</text>
<text x="1810" y="777.2" textLength="44.5" lengthAdjust="spacingAndGlyphs">17</text>
<text x="1810" y="873.7" textLength="44.5" lengthAdjust="spacingAndGlyphs">16</text>
<text x="1810" y="969.9" textLength="44.5" lengthAdjust="spacingAndGlyphs">15</text>
<text x="1810" y="1069.3" textLength="44.5" lengthAdjust="spacingAndGlyphs">14</text>
<text x="1810" y="1165.3" textLength="44.5" lengthAdjust="spacingAndGlyphs">13</text>
</g>
<text class="ttl" y="93.5"><tspan x="447" textLength="426" lengthAdjust="spacing">Temperature</tspan> <tspan x="913" textLength="334" lengthAdjust="spacing">amplitude</tspan> <tspan x="1284" textLength="112" lengthAdjust="spacingAndGlyphs">[°C]</tspan></text>
<text y="1674"><tspan x="857" font-size="86px">(</tspan><tspan x="884.5" font-size="89px" font-weight="bold">c</tspan><tspan x="922" font-size="86px">)</tspan></text>
</svg></body></html>
